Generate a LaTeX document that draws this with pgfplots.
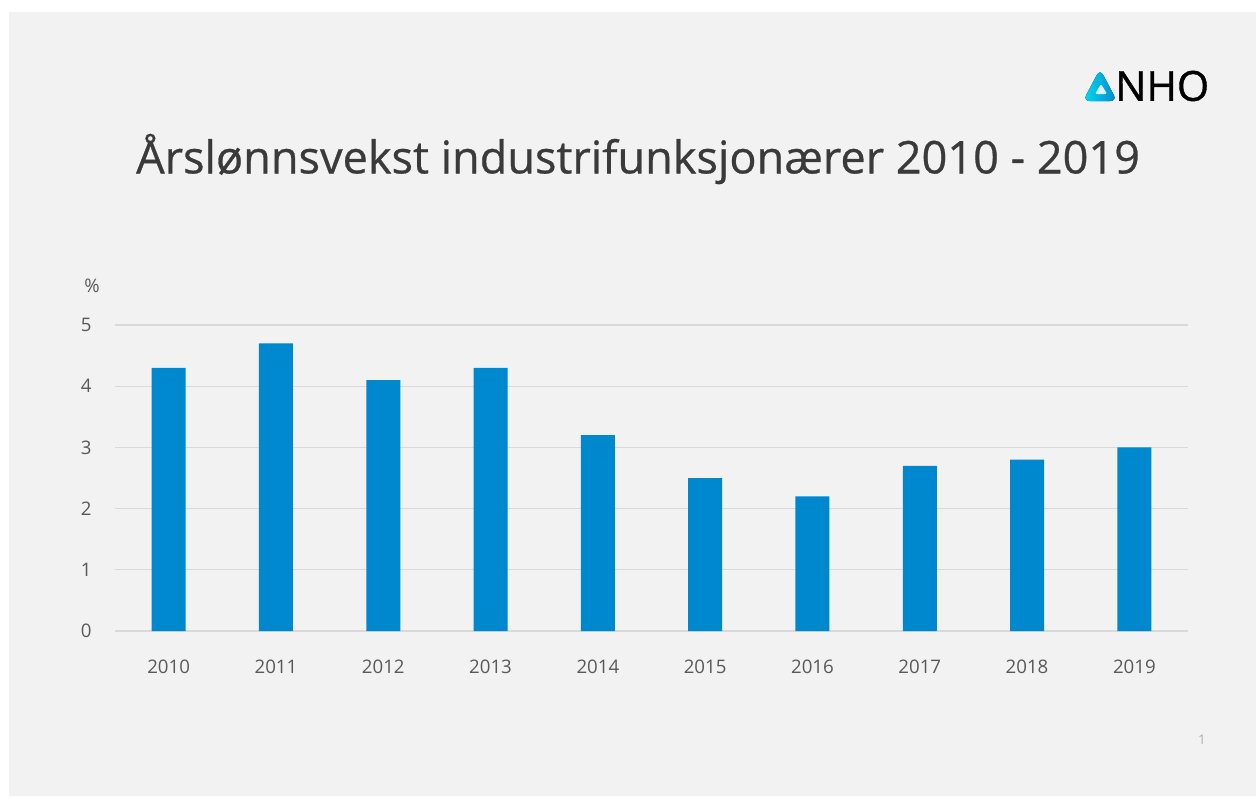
\documentclass[border=0pt]{standalone}
\usepackage{pgfplots}
\pgfplotsset{compat=1.18}
\usepackage{fontspec}
\setmainfont{Open Sans}
\definecolor{bg}{HTML}{F2F2F2}
\definecolor{barblue}{HTML}{0088CE}
\definecolor{gridc}{HTML}{D9D9D9}
\definecolor{ticktxt}{HTML}{595959}
\definecolor{titletxt}{HTML}{3A3A3A}
\begin{document}
\begin{tikzpicture}
\begin{scope}[x=0.75pt,y=-0.75pt]
\fill[white] (0,0) rectangle (1256,796);
\fill[bg] (9,12) rectangle (1256,796);
\node[text=titletxt,font=\fontsize{33.8}{38}\selectfont] at (638,159) {\addfontfeature{FakeBold=0.6}Årslønnsvekst industrifunksjonærer 2010 - 2019};
\node[text=ticktxt,font=\fontsize{14}{16}\selectfont] at (92,286) {\%};
\node[text=gridc!80!black,font=\fontsize{10}{12}\selectfont] at (1202,740) {1};
% NHO logo
\fill[left color=cyan!70!barblue, right color=barblue, rounded corners=5pt] (1083,101) -- (1100,69) -- (1117,101) -- cycle;
\fill[white!85!cyan, rounded corners=1pt] (1095,94) -- (1101,84) -- (1107,94) -- cycle;
\node[anchor=west,inner sep=0pt,font=\fontsize{31}{33}\selectfont] at (1115,86) {\addfontfeature{FakeBold=1}NHO};
\end{scope}
\begin{axis}[
  at={(86.25pt,-473.25pt)}, anchor=south west,
  scale only axis, width=804.75pt, height=229.5pt,
  xmin=-0.5, xmax=9.5, ymin=0, ymax=5,
  axis line style={draw=none},
  ytick={0,1,2,3,4,5},
  xtick={0,...,9},
  xticklabels={2010,2011,2012,2013,2014,2015,2016,2017,2018,2019},
  ymajorgrids, grid style={gridc, line width=1pt},
  major tick length=0pt,
  tick label style={text=ticktxt, font=\fontsize{14}{16}\selectfont},
  /pgf/number format/assume math mode=true,
  yticklabel style={xshift=-14pt},
  xticklabel style={yshift=-18pt},
  clip=false,
]
\addplot[ybar, bar width=25.5pt, fill=barblue, draw=none] coordinates {
 (0,4.3) (1,4.7) (2,4.1) (3,4.3) (4,3.2) (5,2.5) (6,2.2) (7,2.7) (8,2.8) (9,3.0)};
\end{axis}
\end{tikzpicture}
\end{document}
